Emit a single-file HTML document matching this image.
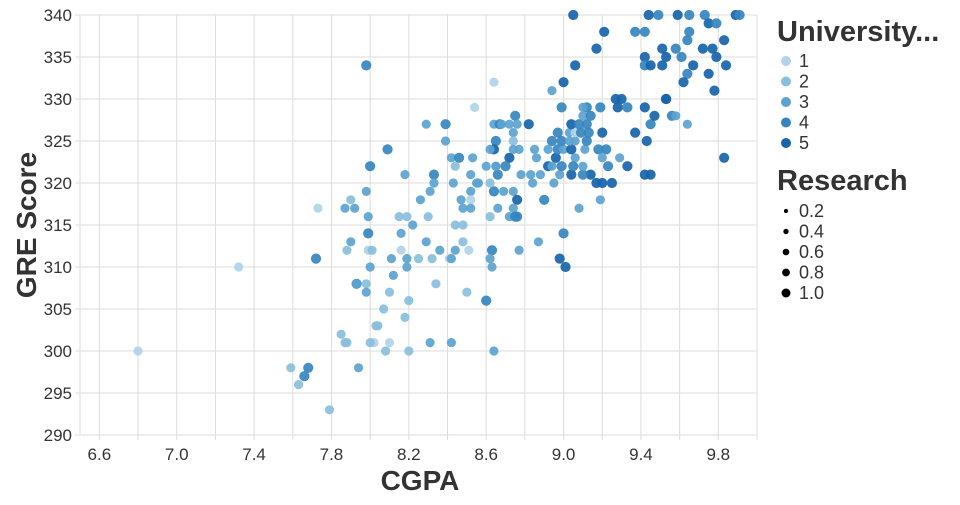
<!DOCTYPE html>
<html><head><meta charset="utf-8"><style>
body{margin:0;background:#fff;}
svg text{font-family:"Liberation Sans",sans-serif;fill:#333;}
</style></head><body>
<svg id="chart" width="960" height="500" xmlns="http://www.w3.org/2000/svg">
<g id="grid"></g>
<g id="axes"></g>
<g id="marks"></g>
<text x="420" y="490" text-anchor="middle" font-size="28" font-weight="bold" style="fill:#333">CGPA</text>
<text transform="translate(36,225) rotate(-90)" text-anchor="middle" font-size="28" font-weight="bold" style="fill:#333">GRE Score</text>
<g id="legend"></g>
</svg>
<script>
const cgpa=[6.8,7.32,7.73,7.72,7.59,7.63,7.66,7.68,7.79,7.87,7.88,7.94,7.87,7.9,7.92,7.88,7.99,7.99,7.98,8.0,7.98,7.93,7.93,7.98,7.98,8.0,7.99,8.01,8.02,8.03,
8.54,8.29,8.39,8.39,8.09,8.18,8.33,8.33,8.31,8.26,8.42,8.46,8.44,8.53,8.52,8.55,8.43,8.52,8.47,8.52,8.48,8.52,8.3,8.15,8.19,8.44,8.48,8.16,8.29,8.48,
8.44,8.51,8.41,8.42,8.32,8.25,8.19,8.11,8.63,8.62,8.63,8.19,8.34,8.1,8.2,8.5,8.18,8.04,8.0,8.1,8.31,8.42,8.08,8.2,8.64,8.16,8.62,8.66,8.64,8.62,
8.66,8.65,8.64,8.62,8.6,8.65,8.64,8.67,8.99,8.75,8.82,8.68,8.72,8.76,8.74,8.74,8.74,8.77,8.72,8.65,8.56,8.69,8.74,8.76,8.74,8.76,8.72,8.75,8.87,9.0,
8.77,8.98,9.01,9.08,9.19,9.29,9.33,9.42,9.43,9.37,9.45,9.47,9.2,9.17,9.2,9.25,9.14,9.04,9.1,8.98,8.95,8.88,8.83,8.78,8.84,8.92,8.94,8.99,8.96,8.86,
8.85,8.92,8.97,9.0,9.04,9.11,9.18,9.22,9.2,9.23,9.06,9.1,9.05,8.94,8.99,9.03,9.06,9.12,8.97,9.03,9.06,9.09,9.13,9.04,9.08,9.12,9.1,9.14,9.12,9.1,
9.19,9.28,9.33,9.42,9.53,9.56,9.27,9.05,9.44,9.49,9.59,9.65,9.73,9.89,9.91,9.75,9.79,9.65,9.64,9.21,9.37,9.42,9.83,9.17,9.51,9.53,9.58,9.61,9.72,9.77,
9.79,9.42,9.42,9.45,9.51,9.67,9.84,9.06,9.64,9.75,9.62,9.78,8.64,9.0,8.94,9.53,9.58,9.64,9.83,9.45,7.85,7.9,8.07,8.12,8.22,8.36,8.6,8.7,8.9,9.3];
const gre=[300,310,317,311,298,296,297,298,293,301,301,298,317,318,317,312,314,316,319,322,334,308,308,308,307,310,312,312,301,303,
329,327,327,325,324,321,321,320,319,318,323,323,322,323,321,320,320,319,318,318,317,317,316,316,316,315,315,314,313,313,
312,312,311,311,311,311,311,311,312,311,310,310,308,307,306,307,304,303,301,301,301,301,300,300,300,312,316,317,319,320,
321,325,324,324,322,322,327,327,329,328,327,327,327,327,326,325,324,324,323,322,320,319,319,318,317,316,316,316,313,314,
312,311,310,317,318,323,322,321,325,326,327,328,326,320,320,320,321,321,321,321,320,321,321,321,320,322,322,322,323,323,
324,324,324,324,324,324,324,324,323,322,323,322,322,325,325,325,325,325,326,326,326,326,326,327,327,327,328,328,329,329,
329,329,329,329,330,328,330,340,340,340,340,340,340,340,340,339,339,338,337,338,338,338,337,336,336,335,336,335,336,336,
335,335,334,334,334,334,334,334,333,333,332,331,332,332,331,330,328,327,323,321,302,313,305,309,315,312,306,322,318,330];
const univ=[1,1,1,4,2,2,4,4,2,2,2,3,3,2,3,2,4,3,3,4,4,4,3,2,3,3,1,2,1,2,
1,3,4,3,4,3,4,3,3,3,3,4,2,3,3,3,3,3,3,1,3,3,2,2,2,2,2,3,3,2,
3,1,1,3,2,2,3,3,4,3,3,3,2,2,2,2,2,2,2,1,3,3,2,2,3,1,2,3,4,2,
4,4,5,3,3,3,3,4,4,4,5,3,3,3,3,2,3,3,5,3,3,3,3,5,3,4,3,4,3,4,
3,5,5,3,3,3,5,5,5,5,4,5,5,5,5,5,5,5,4,3,3,3,3,3,3,5,3,4,5,3,
3,3,4,3,5,3,4,4,3,4,3,3,4,4,4,3,3,4,4,3,1,4,4,5,4,4,3,4,4,3,
4,5,4,5,5,4,5,5,5,4,5,4,4,5,4,5,4,4,4,5,4,4,5,5,5,5,4,4,5,5,
5,5,4,5,5,5,5,5,4,5,5,5,1,5,3,5,3,3,5,5,2,3,2,3,3,3,4,4,4,5];
const research=univ.map(u=>u>=4?1:0);
const xTicks=[6.6,6.8,7.0,7.2,7.4,7.6,7.8,8.0,8.2,8.4,8.6,8.8,9.0,9.2,9.4,9.6,9.8,10.0];
const xLabels=["6.6","7.0","7.4","7.8","8.2","8.6","9.0","9.4","9.8"];
const yTicks=[290,295,300,305,310,315,320,325,330,335,340];
const uniCats=[1,2,3,4,5];
const resCats=[0.2,0.4,0.6,0.8,1.0];
const colors={1:"#b2d3e8",2:"#89bedc",3:"#5ba3d0",4:"#3585bf",5:"#1764ab"};
const L=80,R=757,T=15,B=435;
const x=v=>L+(v-6.5)*(R-L)/3.5;
const y=v=>B-(v-290)*(B-T)/50;
const NS="http://www.w3.org/2000/svg";
function mk(tag,parent,attrs){const e=document.createElementNS(NS,tag);for(const k in attrs)e.setAttribute(k,attrs[k]);parent.appendChild(e);return e;}
const grid=document.getElementById('grid'),axes=document.getElementById('axes'),marks=document.getElementById('marks'),legend=document.getElementById('legend');
xTicks.forEach(t=>{const l=mk('line',grid,{x1:x(t),x2:x(t),y1:T,y2:B+5,stroke:'#ddd'});

});
yTicks.forEach(t=>{const l=mk('line',grid,{x1:L-5,x2:R,y1:y(t),y2:y(t),stroke:'#ddd'});


const tx=mk('text',axes,{x:L-8,y:y(t)+6,'text-anchor':'end','font-size':17});tx.textContent=t;

});
mk('line',grid,{x1:L,x2:L,y1:T,y2:B,stroke:'#ddd'});
xLabels.forEach(s=>{const tx=mk('text',axes,{x:x(+s),y:B+25,'text-anchor':'middle','font-size':17});tx.textContent=s;

});
cgpa.forEach((c,i)=>{const p=mk('circle',marks,{cx:x(c),cy:y(gre[i]),r:4.6+0.5*research[i],fill:colors[univ[i]],'fill-opacity':0.92});

});
let t=mk('text',legend,{x:777,y:41,'font-size':29,'font-weight':'bold'});t.textContent='University...';


uniCats.forEach((u,i)=>{const yy=61+i*20.5;mk('circle',legend,{cx:786,cy:yy,r:5,fill:colors[u]});
const e=mk('text',legend,{x:799,y:yy+6,'font-size':18});e.textContent=u;

});
t=mk('text',legend,{x:777,y:190,'font-size':29,'font-weight':'bold'});t.textContent='Research';


resCats.forEach((r,i)=>{const yy=211+i*20.5;mk('circle',legend,{cx:786,cy:yy,r:1.5+r*3,fill:'#000'});
const e=mk('text',legend,{x:799,y:yy+6,'font-size':18});e.textContent=r.toFixed(1);

});
</script>
</body></html>
